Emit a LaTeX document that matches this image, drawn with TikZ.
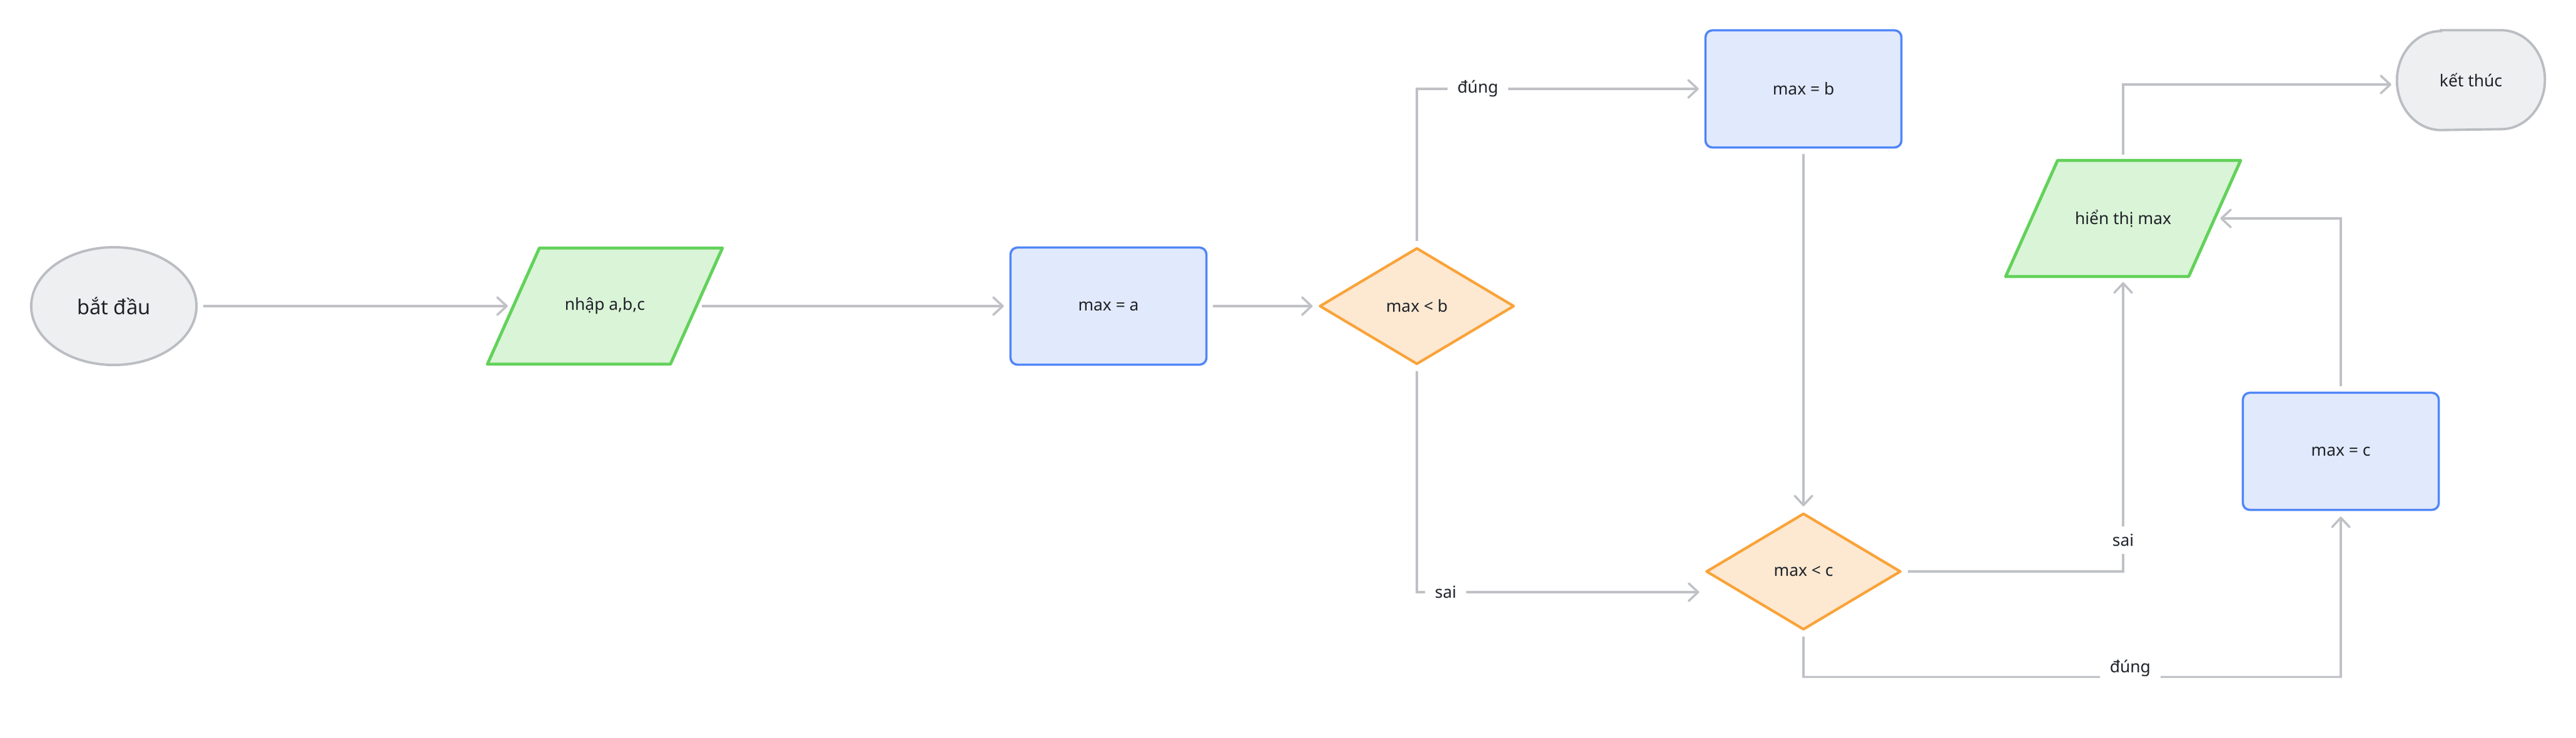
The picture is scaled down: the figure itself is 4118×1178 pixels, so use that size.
\documentclass[tikz,border=0pt]{standalone}
\usepackage{fontspec}
\setmainfont{Noto Sans}
\usetikzlibrary{shapes.geometric,arrows.meta,backgrounds,calc}
\definecolor{lineg}{HTML}{BFC1C6}
\definecolor{txtc}{HTML}{1F2329}
\definecolor{termfill}{HTML}{EEEFF1}
\definecolor{termdraw}{HTML}{BBBDC2}
\definecolor{iofill}{HTML}{DAF4D7}
\definecolor{iodraw}{HTML}{62D25A}
\definecolor{procfill}{HTML}{E1E9FD}
\definecolor{procdraw}{HTML}{5086F7}
\definecolor{decfill}{HTML}{FDE8D1}
\definecolor{decdraw}{HTML}{F9A339}
\begin{document}
\begin{tikzpicture}[x=0.01cm,y=-0.01cm,
 font=\fontsize{7.5}{9}\selectfont, text=txtc,
 termnode/.style={ellipse, draw=termdraw, fill=termfill, line width=1.1pt, minimum width=2.64cm, minimum height=1.88cm, inner sep=0pt},
 procnode/.style={rectangle, rounded corners=0.11cm, draw=procdraw, fill=procfill, line width=1pt, minimum width=3.13cm, minimum height=1.87cm, inner sep=0pt},
 decnode/.style={diamond, draw=decdraw, fill=decfill, line width=1.2pt, minimum width=3.11cm, minimum height=1.86cm, inner sep=0pt, line join=round},
 ionode/.style={rectangle, minimum width=2.91cm, minimum height=1.84cm, inner sep=0pt},
 ioshape/.style={draw=iodraw, fill=iofill, line width=1.4pt, line join=round},
 endnode/.style={rectangle, minimum width=2.35cm, minimum height=1.58cm, inner sep=0pt},
 endshape/.style={draw=termdraw, fill=termfill, line width=1.1pt},
 conn/.style={draw=lineg, line width=1pt, -{Straight Barb[length=0.15cm,width=0.28cm,round]}, shorten >=0.09cm, shorten <=0.09cm},
 lbl/.style={fill=white, inner xsep=0.16cm, inner ysep=0.12cm, text=txtc},
]
\useasboundingbox (0,0) rectangle (4118,1178);

% nodes
\node[termnode, font=\fontsize{9.3}{11}\selectfont] (start) at (182,489) {bắt đầu};
\node[ionode] (inp) at (967,489) {nhập a,b,c};
\node[procnode] (ma) at (1772,489) {max = a};
\node[decnode] (d1) at (2265,489) {max < b};
\node[procnode] (mb) at (2883,142) {max = b};
\node[decnode] (d2) at (2883,913) {max < c};
\node[procnode] (mc) at (3742,721) {max = c};
\node[ionode] (outp) at (3394,349) {hiển thị max};
\node[endnode] (fin) at (3950,128) {kết thúc};

% shapes drawn behind the text
\begin{scope}[on background layer]
\foreach \n in {inp,outp}
 \path[ioshape] ([xshift=-0.415cm]\n.south west) -- ([xshift=0.415cm]\n.north west)
   -- ([xshift=0.415cm]\n.north east) -- ([xshift=-0.415cm]\n.south east) -- cycle;
\path[endshape] ([xshift=0.7cm]fin.north west) -- ([xshift=-0.7cm]fin.north east)
   arc[start angle=90, end angle=-90, x radius=0.7cm, y radius=0.79cm]
   -- ([xshift=0.7cm]fin.south west)
   arc[start angle=270, end angle=90, x radius=0.7cm, y radius=0.79cm] -- cycle;
\end{scope}

% connectors
\draw[conn] (start.east) -- (inp.west);
\draw[conn] (inp.east) -- (ma.west);
\draw[conn] (ma.east) -- (d1.west);
\draw[conn] (d1.north) |- node[lbl, pos=0.606]{đúng} (mb.west);
\draw[conn] (d1.south) |- node[lbl, pos=0.55]{sai} ([yshift=-0.33cm]d2.west);
\draw[conn] (mb.south) -- (d2.north);
\draw[conn] (d2.east) -| node[lbl, pos=0.553]{sai} (outp.south);
\draw[conn] (d2.south) -- ++(0,73.5) -| node[lbl, pos=0.304, yshift=0.14cm]{đúng} (mc.south);
\draw[conn] (mc.north) |- (outp.east);
\draw[conn] (outp.north) |- ([yshift=-0.07cm]fin.west);
\end{tikzpicture}
\end{document}
